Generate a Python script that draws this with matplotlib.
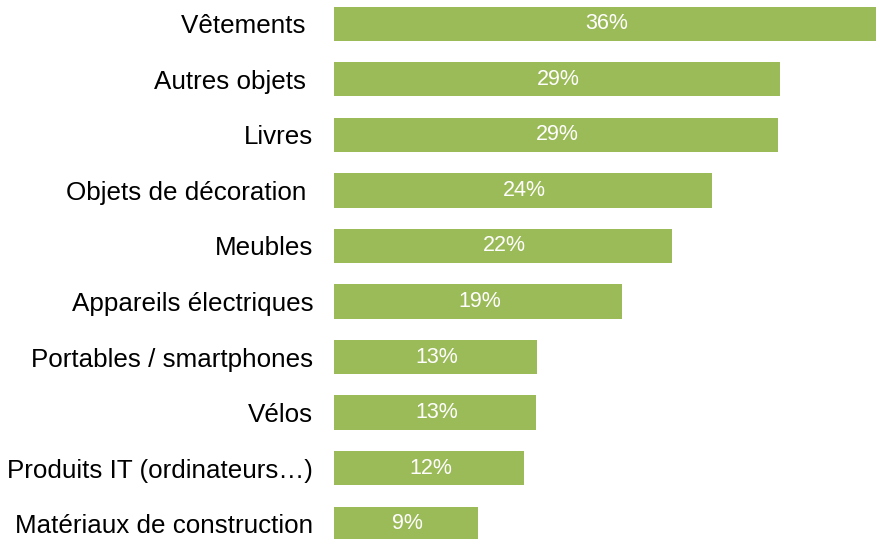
import matplotlib
matplotlib.use("Agg")
import matplotlib.pyplot as plt

categories = ["Vêtements ", "Autres objets ", "Livres", "Objets de décoration ", "Meubles",
              "Appareils électriques", "Portables / smartphones", "Vélos",
              "Produits IT (ordinateurs…)", "Matériaux de construction"]
values = [35.9, 29.4, 29.3, 24.9, 22.3, 19.0, 13.4, 13.3, 12.5, 9.5]
value_labels = ["36%", "29%", "29%", "24%", "22%", "19%", "13%", "13%", "12%", "9%"]

plt.rcParams['font.family'] = ['Liberation Sans', 'DejaVu Sans']

fig = plt.figure(figsize=(8.76, 5.39), dpi=100)
ax = fig.add_axes([334/876, 0, 1 - 334/876, 1])

ypos = list(range(len(categories)))
bars = ax.barh(ypos, values, height=0.613, color="#9BBB59")

for y, v, lab in zip(ypos, values, value_labels):
    ax.text(min(v, 35.73) / 2 + 0.1, y, lab, ha="center", va="center", color="white", fontsize=15.5)

ax.set_xlim(0, 35.73)
ax.set_ylim(9.279, -0.432)
ax.set_yticks(ypos)
ax.set_yticklabels(categories, fontsize=18.7, color="#000000")
ax.tick_params(axis="y", length=0, pad=15)
ax.set_xticks([])
for s in ax.spines.values():
    s.set_visible(False)

fig.savefig("out.png", dpi=100)
